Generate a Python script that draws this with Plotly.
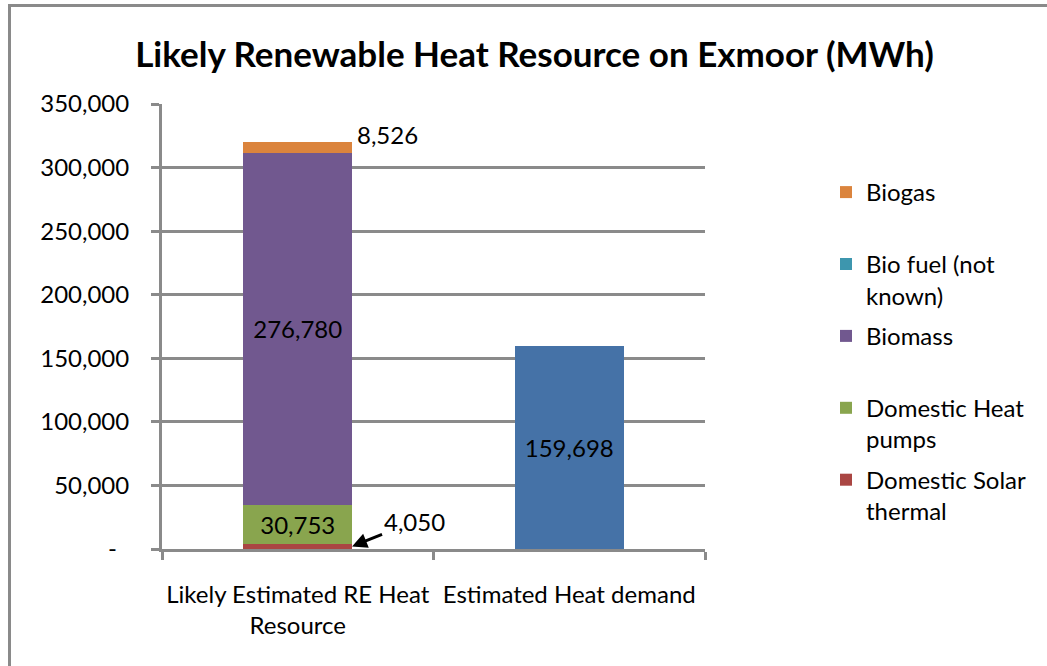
import plotly.graph_objects as go

categories = ["Likely Estimated RE Heat<br>Resource", "Estimated Heat demand"]
solar_thermal = [4050, None]
heat_pumps = [30753, None]
biomass = [276780, None]
bio_fuel = [0, None]
biogas = [8526, None]
heat_demand = [None, 159698]

y_tickvals = [0, 50000, 100000, 150000, 200000, 250000, 300000, 350000]
y_ticktext = ["-\u00a0\u00a0", "50,000", "100,000", "150,000", "200,000",
              "250,000", "300,000", "350,000"]

FONT = "Lato"
GRAY = "#8a8a8a"
W, H = 1047, 666
L, R, T, B = 162, 342, 104, 117
PW, PH = W - L - R, H - T - B


def px_x(p):
    return (p - L) / PW


def px_y(p):
    return (H - B - p) / PH


# (legend name, values, colour, inside label template, legend rank)
series = [
    ("Domestic Solar<br>thermal", solar_thermal, "#AA4643", None, 5),
    ("Domestic Heat<br>pumps", heat_pumps, "#89A54E", "%{y:,}", 4),
    ("Biomass<br>\u00a0", biomass, "#71588F", "%{y:,}", 3),
    ("Bio fuel (not<br>known)", bio_fuel, "#3D96AE", None, 2),
    ("Biogas<br>\u00a0", biogas, "#DB843D", None, 1),
]

fig = go.Figure()
for i, (name, vals, color, tmpl, rank) in enumerate(series):
    fig.add_trace(go.Bar(
        x=categories, y=vals, name=name, marker_color=color,
        marker_line_width=0, legendgroup=f"g{i}", legendrank=rank,
        texttemplate=tmpl, textposition="inside" if tmpl else "none",
        insidetextanchor="middle", constraintext="none",
        textfont=dict(family=FONT, size=24, color="black"),
    ))

fig.add_trace(go.Bar(
    x=categories, y=heat_demand, name="Estimated Heat demand",
    marker_color="#4572A7", marker_line_width=0, showlegend=False,
    texttemplate="%{y:,}", textposition="inside", insidetextanchor="middle",
    constraintext="none", textfont=dict(family=FONT, size=24, color="black"),
))

total_re = sum(v[0] for v in [solar_thermal, heat_pumps, biomass, bio_fuel, biogas])

fig.add_annotation(x=0, y=total_re, text=f"{biogas[0]:,}", showarrow=False,
                   xshift=90, yshift=8, font=dict(family=FONT, size=24, color="black"))
fig.add_annotation(x=0.2, y=solar_thermal[0] / 2, text=f"{solar_thermal[0]:,}",
                   showarrow=True, ax=62, ay=-25, arrowhead=2, arrowsize=1,
                   arrowwidth=3, arrowcolor="black", standoff=0,
                   font=dict(family=FONT, size=24, color="black"))

fig.add_shape(type="rect", xref="paper", yref="paper",
              x0=px_x(9.5), x1=px_x(1110), y0=px_y(720), y1=px_y(5.5),
              line=dict(color=GRAY, width=3), fillcolor="rgba(0,0,0,0)", layer="above")

fig.update_layout(
    width=W, height=H,
    margin=dict(l=L, r=R, t=T, b=B, pad=0, autoexpand=False),
    barmode="stack", bargap=0.6,
    paper_bgcolor="white", plot_bgcolor="white",
    font=dict(family=FONT, size=24, color="black"),
    title=dict(text="<b>Likely Renewable Heat Resource on Exmoor (MWh)</b>",
               x=px_x(534.5), xref="paper", xanchor="center",
               y=1 - 55 / H, yref="container", yanchor="middle",
               font=dict(family=FONT, size=35, color="black")),
    legend=dict(x=px_x(826), y=px_y(170), xanchor="left", yanchor="top",
                traceorder="grouped", valign="top", tracegroupgap=6.5,
                font=dict(family=FONT, size=24, color="black"),
                bgcolor="rgba(0,0,0,0)", borderwidth=0),
    xaxis=dict(type="category", showline=True, linecolor=GRAY, linewidth=3,
               ticks="outside", tickson="boundaries", ticklen=8, tickwidth=3,
               tickcolor=GRAY, showgrid=False, ticklabelstandoff=22,
               tickangle=0, automargin=False,
               tickfont=dict(family=FONT, size=24, color="black")),
    yaxis=dict(range=[0, 350000], tickvals=y_tickvals, ticktext=y_ticktext,
               showline=True, linecolor=GRAY, linewidth=3, ticks="outside",
               ticklen=8, tickwidth=3, tickcolor=GRAY, showgrid=True,
               gridcolor=GRAY, gridwidth=3, zeroline=False,
               ticklabelstandoff=17, automargin=False,
               tickfont=dict(family=FONT, size=24, color="black")),
)

fig.write_html("out.html", config={"displayModeBar": False},
               post_script="document.body.style.margin='0';")
